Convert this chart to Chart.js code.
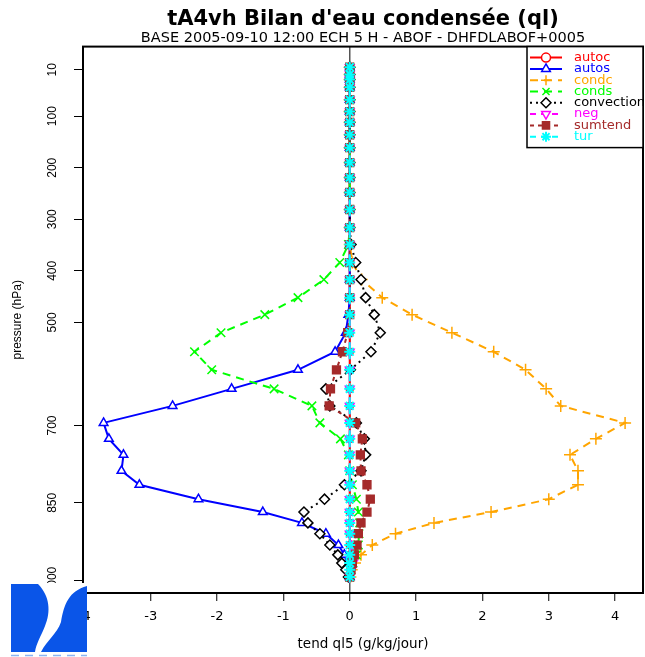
<!DOCTYPE html>
<html>
<head>
<meta charset="utf-8">
<script src="https://cdn.jsdelivr.net/npm/chart.js@4.4.1/dist/chart.umd.min.js"></script>
<style>
  html, body { margin: 0; padding: 0; background: #fff; }
  canvas { display: block; }
</style>
</head>
<body>
<canvas id="graphe" width="645" height="657"></canvas>
<script>
// ==================== DONNEES ====================

// niveaux de pression (hPa)
const niveaux = [5, 19, 29, 44, 68, 91, 112, 136, 161, 190, 219, 248, 281, 316, 349, 384, 417, 452, 485, 520,
  557, 592, 629, 662, 695, 726, 757, 788, 815, 843, 868, 889, 910, 932, 951, 967, 980, 994];

const ticksPression = [10, 100, 200, 300, 400, 500, 700, 850, 1000];
const ticksTend = [-4, -3, -2, -1, 0, 1, 2, 3, 4];

// tendances (g/kg/jour), une valeur par niveau
const autoc = [0, 0, 0, 0, 0, 0, 0, 0, 0, 0, 0, 0, 0, 0, 0, 0, 0, 0, 0, 0,
  0, 0, 0, 0, 0, 0, 0, 0, 0, 0, 0, 0, 0, 0, 0, 0, 0, 0];
const autos = [0, 0, 0, 0, 0, 0, 0, 0, 0, 0, 0, 0, 0, 0, 0, 0, 0, 0, -0.02, -0.06,
  -0.22, -0.78, -1.78, -2.67, -3.71, -3.63, -3.41, -3.44, -3.17, -2.28, -1.31, -0.72, -0.36, -0.17, -0.08, -0.04, -0.02, 0];
const condc = [0, 0, 0, 0, 0, 0, 0, 0, 0, 0, 0, 0, 0, 0, 0, 0.04, 0.18, 0.49, 0.94, 1.54,
  2.17, 2.65, 2.96, 3.18, 4.15, 3.71, 3.32, 3.44, 3.44, 3.0, 2.13, 1.27, 0.69, 0.34, 0.17, 0.08, 0.03, 0.01];
const conds = [0, 0, 0, 0, 0, 0, 0, 0, 0, 0, 0, 0, 0, 0, -0.02, -0.15, -0.39, -0.78, -1.28, -1.94,
  -2.34, -2.08, -1.14, -0.57, -0.45, -0.14, -0.02, 0, 0.04, 0.1, 0.13, 0.15, 0.14, 0.13, 0.1, 0.05, 0.02, 0];
const convection = [0, 0, 0, 0, 0, 0, 0, 0, 0, 0, 0, 0, 0, 0, 0.02, 0.09, 0.17, 0.24, 0.37, 0.46,
  0.32, 0.01, -0.36, -0.3, 0.1, 0.22, 0.24, 0.17, -0.08, -0.38, -0.69, -0.63, -0.45, -0.3, -0.18, -0.12, -0.06, -0.02];
const neg = [0, 0, 0, 0, 0, 0, 0, 0, 0, 0, 0, 0, 0, 0, 0, 0, 0, 0, 0, 0,
  0, 0, 0, 0, 0, 0, 0, 0, 0, 0, 0, 0, 0, 0.03, 0.06, 0.05, 0.03, 0];
const sumtend = [0, 0, 0, 0, 0, 0, 0, 0, 0, 0, 0, 0, 0, 0, 0, 0, 0, 0, 0, -0.03,
  -0.11, -0.2, -0.29, -0.31, 0.09, 0.19, 0.16, 0.17, 0.26, 0.31, 0.26, 0.17, 0.13, 0.11, 0.07, 0.04, 0.02, 0];
const tur = [0, 0, 0, 0, 0, 0, 0, 0, 0, 0, 0, 0, 0, 0, 0, 0, 0, 0, 0, 0,
  0, 0, 0, 0, 0, 0, 0, 0, 0, 0, 0, 0, 0, 0, 0, 0, 0, 0];

// ==================== SERIES ====================

function serie(nom, valeurs, couleur, style) {
  return Object.assign({
    label: nom,
    data: valeurs.map((v, i) => ({ x: v, y: niveaux[i] })),
    showLine: true,
    borderColor: couleur,
    pointBorderColor: couleur,
    pointBackgroundColor: '#fff',
    borderWidth: 2,
    pointRadius: 5,
    pointBorderWidth: 1.5,
    pointStyle: 'circle',
    fill: false
  }, style);
}

const series = [
  serie('autoc', autoc, '#ff0000', { pointStyle: 'circle', pointRadius: 3.5 }),
  serie('autos', autos, '#0000ff', { pointStyle: 'triangle' }),
  serie('condc', condc, '#ffa500', { pointStyle: 'cross', borderDash: [8, 6], pointRadius: 6 }),
  serie('conds', conds, '#00ff00', { pointStyle: 'crossRot', borderDash: [8, 6], pointRadius: 6 }),
  serie('convection', convection, '#000000', { pointStyle: 'rectRot', borderDash: [2, 4] }),
  serie('neg', neg, '#ff00ff', { pointStyle: 'triangle', pointRotation: 180, borderDash: [6, 5] }),
  serie('sumtend', sumtend, '#a52a2a', { pointStyle: 'rect', borderDash: [4, 4], pointBackgroundColor: '#a52a2a', pointRadius: 5.5 }),
  serie('tur', tur, '#00ffff', { pointStyle: 'star', borderDash: [6, 5], pointRadius: 5.5, pointBorderWidth: 2 })
];
// la dernière série est dessinée par-dessus
series.forEach((s, i) => { s.order = series.length - i; });

// ==================== PLUGINS ====================

const cadreLegende = {
  id: 'cadreLegende',
  afterDraw(chart) {
    const ctx = chart.ctx;
    const a = chart.chartArea;
    ctx.save();
    ctx.setLineDash([]);
    ctx.strokeStyle = '#000';
    ctx.lineWidth = 2;
    ctx.strokeRect(a.left, a.top, a.right - a.left, a.bottom - a.top);

    // boite de légende
    const x0 = a.right - 116, y0 = a.top, w = a.right - x0, h = 101;
    ctx.fillStyle = '#fff';
    ctx.fillRect(x0, y0, w, h);
    ctx.lineWidth = 1.5;
    ctx.strokeRect(x0, y0, w, h);
    ctx.beginPath();
    ctx.rect(x0, y0, w, h);
    ctx.clip();
    ctx.font = '13px "DejaVu Sans", sans-serif';
    ctx.textBaseline = 'middle';
    chart.data.datasets.forEach((ds, i) => {
      const y = y0 + 11 + i * 11.3;
      ctx.strokeStyle = ds.borderColor;
      ctx.lineWidth = ds.borderWidth;
      ctx.setLineDash(ds.borderDash || []);
      ctx.beginPath();
      ctx.moveTo(x0 + 3, y);
      ctx.lineTo(x0 + 35, y);
      ctx.stroke();
      ctx.setLineDash([]);
      ctx.fillStyle = ds.pointBackgroundColor;
      ctx.lineWidth = ds.pointBorderWidth;
      Chart.helpers.drawPoint(ctx, {
        pointStyle: ds.pointStyle,
        rotation: ds.pointRotation || 0,
        radius: Math.min(Math.max(ds.pointRadius, 4.5), 5),
        borderWidth: ds.pointBorderWidth
      }, x0 + 19, y);
      ctx.fillStyle = ds.borderColor;
      ctx.textAlign = 'left';
      ctx.fillText(ds.label, x0 + 47, y);
    });
    ctx.restore();

    // logo en bas à gauche (image opaque sur fond blanc)
    ctx.save();
    ctx.fillStyle = '#fff';
    ctx.fillRect(9, 583, 78, 74);
    ctx.fillStyle = '#0a55e8';
    ctx.beginPath();
    ctx.moveTo(11, 584);
    ctx.lineTo(38, 584);
    ctx.bezierCurveTo(50, 596, 51, 612, 45, 626);
    ctx.bezierCurveTo(41, 636, 36, 644, 35, 652);
    ctx.lineTo(11, 652);
    ctx.closePath();
    ctx.fill();
    ctx.beginPath();
    ctx.moveTo(87, 586);
    ctx.lineTo(87, 652);
    ctx.lineTo(41, 652);
    ctx.bezierCurveTo(47, 640, 57, 634, 61, 622);
    ctx.bezierCurveTo(64, 604, 69, 591, 87, 586);
    ctx.closePath();
    ctx.fill();
    ctx.strokeStyle = '#8cb4f2';
    ctx.lineWidth = 1.5;
    ctx.setLineDash([8, 6]);
    ctx.beginPath();
    ctx.moveTo(11, 655.5);
    ctx.lineTo(87, 655.5);
    ctx.stroke();
    ctx.restore();
  }
};

// ==================== GRAPHIQUE ====================

const policeSans = '"Liberation Sans", Arial, sans-serif';
const policeLarge = '"DejaVu Sans", sans-serif';

new Chart(document.getElementById('graphe').getContext('2d'), {
  type: 'scatter',
  data: { datasets: series },
  options: {
    responsive: false,
    animation: false,
    devicePixelRatio: 1,
    layout: { autoPadding: false, padding: { right: 2, left: 0, top: 0, bottom: 0 } },
    plugins: {
      legend: { display: false },
      tooltip: { enabled: false },
      title: {
        display: true,
        text: "tA4vh Bilan d'eau condensée (ql)",
        fullSize: false,
        color: '#000',
        font: { family: policeLarge, size: 21, weight: 'bold', lineHeight: 1.1 },
        padding: { top: 8, bottom: 0 }
      },
      subtitle: {
        display: true,
        text: 'BASE 2005-09-10 12:00 ECH 5 H - ABOF - DHFDLABOF+0005',
        fullSize: false,
        color: '#000',
        font: { family: policeLarge, size: 14.5, lineHeight: 1.0 },
        padding: { top: 0, bottom: 1 }
      }
    },
    scales: {
      x: {
        type: 'linear',
        min: -4.02,
        max: 4.42,
        afterBuildTicks: (scale) => { scale.ticks = ticksTend.map(v => ({ value: v })); },
        afterFit: (scale) => { scale.height = 64; scale.paddingLeft = 0; scale.paddingRight = 0; },
        ticks: {
          color: '#000',
          font: { family: policeLarge, size: 13 },
          padding: 8,
          maxRotation: 0,
          callback: (v) => String(v)
        },
        grid: {
          drawOnChartArea: true,
          color: (c) => (c.tick && c.tick.value === 0 ? '#555' : 'rgba(0,0,0,0)'),
          lineWidth: 1.5,
          tickColor: '#000',
          tickLength: 8,
          tickWidth: 1
        },
        border: { display: true, color: '#000', width: 2 },
        title: {
          display: true,
          text: 'tend ql5 (g/kg/jour)',
          color: '#000',
          font: { family: policeLarge, size: 13.5 },
          padding: { top: 0, bottom: 4 }
        }
      },
      y: {
        type: 'linear',
        reverse: true,
        min: -35,
        max: 1025,
        afterBuildTicks: (scale) => { scale.ticks = ticksPression.map(v => ({ value: v })); },
        afterFit: (scale) => { scale.width = 83; scale.paddingLeft = 0; scale.paddingRight = 0; },
        ticks: {
          color: '#000',
          font: { family: policeSans, size: 12 },
          minRotation: 90,
          maxRotation: 90,
          crossAlign: 'center',
          padding: 8,
          callback: (v) => String(v)
        },
        grid: {
          drawOnChartArea: false,
          tickColor: '#000',
          tickLength: 9,
          tickWidth: 1
        },
        border: { display: true, color: '#000', width: 2 },
        title: {
          display: true,
          text: 'pressure (hPa)',
          color: '#000',
          font: { family: policeSans, size: 12 },
          padding: { top: 10, bottom: 0 }
        }
      }
    }
  },
  plugins: [cadreLegende]
});
</script>
</body>
</html>
